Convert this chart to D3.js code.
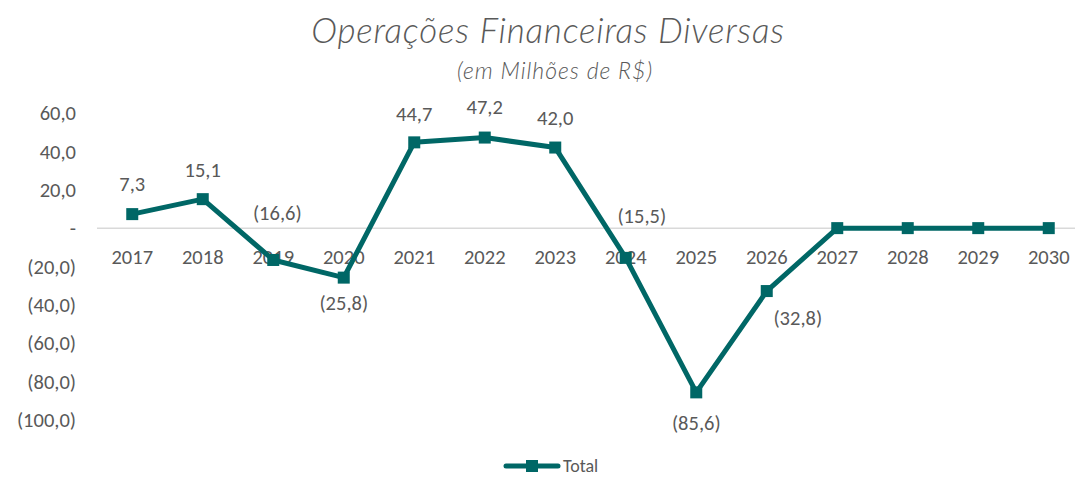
<!DOCTYPE html>
<html>
<head>
<meta charset="utf-8">
<script src="https://cdn.jsdelivr.net/npm/d3@7"></script>
<style>
  body { margin: 0; background: #fff; }
  svg text { font-family: Carlito, Calibri, Lato, sans-serif; fill: #595959; }
  .title { font-family: Lato, "DejaVu Sans", sans-serif; font-style: italic; font-weight: 300; }
</style>
</head>
<body>
<svg id="chart" width="1075" height="477"></svg>
<script>
// data
const years = ["2017", "2018", "2019", "2020", "2021", "2022", "2023", "2024", "2025", "2026", "2027", "2028", "2029", "2030"];
const totals = [7.3, 15.1, -16.6, -25.8, 44.7, 47.2, 42.0, -15.5, -85.6, -32.8, 0, 0, 0, 0];
const yTicks = [60, 40, 20, 0, -20, -40, -60, -80, -100];
const seriesName = "Total";

const width = 1075, height = 477;
const teal = "#006766";
const svg = d3.select("#chart");

const br = d3.formatLocale({ decimal: ",", thousands: ".", grouping: [3], currency: ["R$", ""] });
const f1 = br.format(",.1f");
const fmt = (v) => (v === 0 ? "-" : v < 0 ? "(" + f1(-v) + ")" : f1(v));

const x = d3.scaleBand().domain(years).range([97, 1084]);
const y = d3.scaleLinear().domain([-100, 60]).range([420, 113]);
const cx = (d) => x(d) + x.bandwidth() / 2;

// title
svg.append("text").attr("class", "title")
  .attr("x", 548).attr("y", 43)
  .attr("text-anchor", "middle").style("font-size", "35px")
  .style("letter-spacing", "0.8px")
  .text("Operações Financeiras Diversas");
svg.append("text").attr("class", "title")
  .attr("x", 555).attr("y", 79)
  .attr("text-anchor", "middle").style("font-size", "23px")
  .style("letter-spacing", "1px")
  .text("(em Milhões de R$)");

// y axis labels
svg.append("g").selectAll("text")
  .data(yTicks).enter().append("text")
  .attr("x", 76).attr("y", (d) => y(d))
  .attr("dy", "0.35em")
  .attr("text-anchor", "end")
  .style("font-size", "20.5px")
  .text(fmt);

// zero line
svg.append("line")
  .attr("x1", 97).attr("x2", width)
  .attr("y1", y(0)).attr("y2", y(0))
  .attr("stroke", "#d9d9d9").attr("stroke-width", 1.5);

// x labels
svg.append("g").selectAll("text")
  .data(years).enter().append("text")
  .attr("x", cx).attr("y", y(0) + 29)
  .attr("dy", "0.35em")
  .attr("text-anchor", "middle")
  .style("font-size", "20.5px")
  .text((d) => d);

// line
const pts = years.map((d, i) => ({ year: d, value: totals[i] }));
const line = d3.line().x((d) => cx(d.year)).y((d) => y(d.value));
svg.append("path")
  .datum(pts)
  .attr("d", line)
  .attr("fill", "none")
  .attr("stroke", teal)
  .attr("stroke-width", 5)
  .attr("stroke-linejoin", "round");

svg.append("g").selectAll("rect")
  .data(pts).enter().append("rect")
  .attr("x", (d) => cx(d.year) - 6)
  .attr("y", (d) => y(d.value) - 6)
  .attr("width", 12).attr("height", 12)
  .attr("fill", teal);

// data labels (zeros not labelled)
const offsets = {
  "2017": [0, -30], "2018": [0, -29], "2019": [4, -47], "2020": [0, 25],
  "2021": [0, -29], "2022": [0, -31], "2023": [0, -30], "2024": [16, -42],
  "2025": [0, 30], "2026": [31, 27]
};
svg.append("g").selectAll("text")
  .data(pts.filter((d) => d.value !== 0)).enter().append("text")
  .attr("x", (d) => cx(d.year) + offsets[d.year][0])
  .attr("y", (d) => y(d.value) + offsets[d.year][1])
  .attr("dy", "0.35em")
  .attr("text-anchor", "middle")
  .style("font-size", "20.5px")
  .text((d) => fmt(d.value));

// legend
const lg = svg.append("g").attr("transform", "translate(506,466)");
lg.append("line").attr("x1", 0).attr("x2", 52)
  .attr("stroke", teal).attr("stroke-width", 5).attr("stroke-linecap", "round");
lg.append("rect").attr("x", 20).attr("y", -6).attr("width", 12).attr("height", 12).attr("fill", teal);
lg.append("text").attr("x", 57).attr("y", 0).attr("dy", "0.35em")
  .style("font-size", "18px").text(seriesName);
</script>
</body>
</html>
